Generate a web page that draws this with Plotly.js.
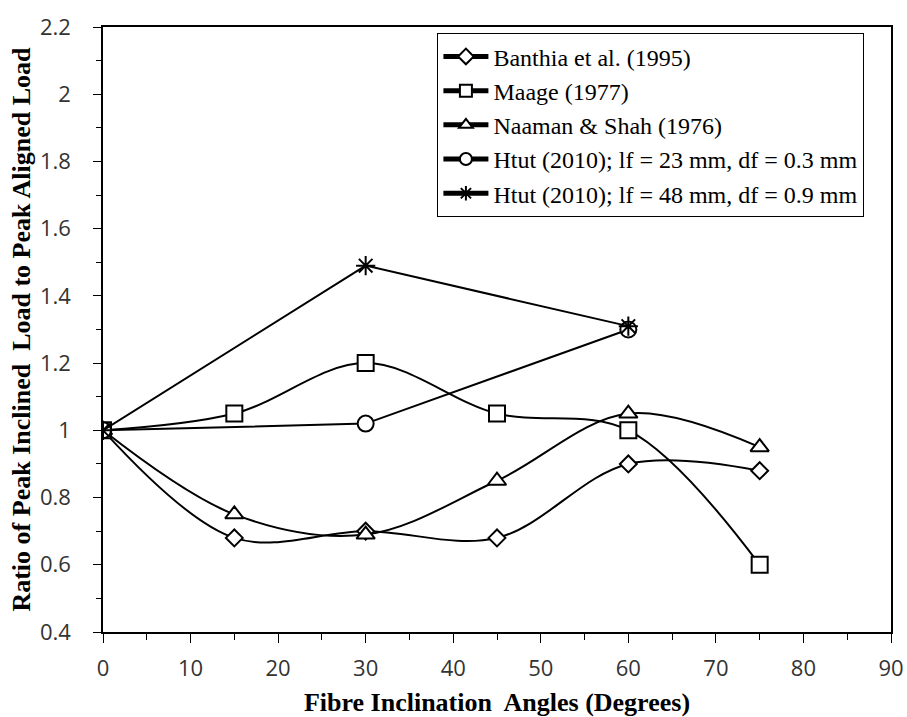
<!DOCTYPE html>
<html><head><meta charset="utf-8">
<script src="https://cdn.plot.ly/plotly-3.0.1.min.js"></script>
<style>html,body{margin:0;padding:0;background:#fff}</style>
</head><body>
<div id="chart" style="width:907px;height:717px"></div>
<script>
const anglesFull = [0, 15, 30, 45, 60, 75];
const anglesHtut = [0, 30, 60];
const banthia = [1.00, 0.68, 0.70, 0.68, 0.90, 0.88];
const maage = [1.00, 1.05, 1.20, 1.05, 1.00, 0.60];
const naaman = [1.00, 0.75, 0.69, 0.85, 1.05, 0.95];
const htut23 = [1.00, 1.02, 1.30];
const htut48 = [1.00, 1.49, 1.31];
const names = ["Banthia et al. (1995)", "Maage (1977)", "Naaman & Shah (1976)",
  "Htut (2010); lf = 23 mm, df = 0.3 mm", "Htut (2010); lf = 48 mm, df = 0.9 mm"];

function tr(x, y, name, sym, size, shape, g) {
  return {x: x, y: y, name: name, type: 'scatter', mode: 'lines+markers', legendgroup: g,
    line: {color: '#000', width: 2, shape: shape, smoothing: 1},
    marker: {symbol: sym, size: size, color: '#fff', line: {color: '#000', width: 2}}};
}
const data = [
  tr(anglesFull, banthia, names[0], 'diamond', 13, 'spline', 'a'),
  tr(anglesFull, maage, names[1], 'square', 16, 'spline', 'b'),
  tr(anglesFull, naaman, names[2], 'triangle-up', 16, 'spline', 'c'),
  tr(anglesHtut, htut23, names[3], 'circle', 16, 'linear', 'd'),
  tr(anglesHtut, htut48, names[4], 'asterisk-open', 16, 'linear', 'e')
];
data[4].marker.color = '#000';

const titleFont = {family: 'Liberation Serif, Times New Roman, serif', size: 26, color: '#000', weight: 'bold'};
const tickFont = {family: 'Open Sans, Noto Sans, sans-serif', size: 22, color: '#333'};

const layout = {
  width: 907, height: 717,
  margin: {l: 103, r: 16, t: 27, b: 85},
  paper_bgcolor: '#fff', plot_bgcolor: '#fff',
  showlegend: true,
  legend: {x: 0.424, y: 0.99, xanchor: 'left', yanchor: 'top',
    bordercolor: '#000', borderwidth: 1.3, bgcolor: '#fff', itemsizing: 'constant',
    font: {family: 'Liberation Serif, Times New Roman, serif', size: 24, color: '#000'},
    tracegroupgap: 0, itemwidth: 45},
  xaxis: {range: [0, 90], tickvals: [0,10,20,30,40,50,60,70,80,90], automargin: false,
    showgrid: false, zeroline: false, showline: true, linecolor: '#000', linewidth: 1.5, mirror: true,
    ticks: 'outside', ticklen: 9, tickwidth: 1.3, tickcolor: '#000', ticklabelstandoff: 7,
    minor: {dtick: 5, ticks: 'outside', ticklen: 6, tickwidth: 1.3, tickcolor: '#000'},
    tickfont: tickFont,
    title: {text: 'Fibre Inclination  Angles (Degrees)', standoff: 17, font: titleFont}},
  yaxis: {range: [0.4, 2.2], dtick: 0.2, tick0: 0.4, automargin: false,
    showgrid: false, zeroline: false, showline: true, linecolor: '#000', linewidth: 1.5, mirror: true,
    ticks: 'outside', ticklen: 8, tickwidth: 1.3, tickcolor: '#000', ticklabelstandoff: 18,
    minor: {dtick: 0.1, ticks: 'outside', ticklen: 5, tickwidth: 1.3, tickcolor: '#000'},
    tickfont: tickFont,
    title: {text: 'Ratio of Peak Inclined  Load to Peak Aligned Load', standoff: 2, font: titleFont}}
};
Plotly.newPlot('chart', data, layout, {displayModeBar: false});
</script>
</body></html>
